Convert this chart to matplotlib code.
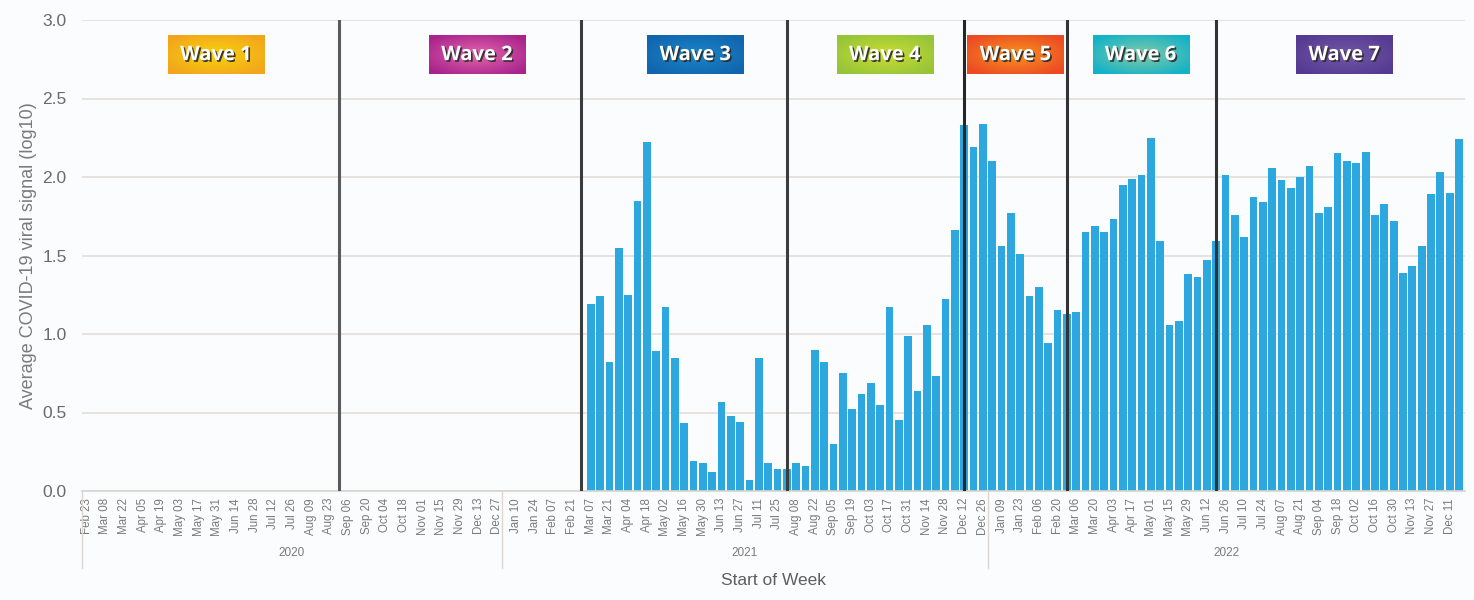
# -*- coding: utf-8 -*-

import numpy as np
import pandas as pd
import matplotlib
matplotlib.use('Agg')
import matplotlib.pyplot as plt
import matplotlib.patheffects as pe
from matplotlib.colors import to_rgb


# weekly samples, first week with a reading is 2021-03-07
first_week = '2020-02-23'
n_weeks = 148
data_start = '2021-03-07'
signal = [1.19, 1.24, 0.82, 1.55, 1.25, 1.85, 2.22, 0.89, 1.17, 0.85,
          0.43, 0.19, 0.18, 0.12, 0.57, 0.48, 0.44, 0.07, 0.85, 0.18,
          0.14, 0.14, 0.18, 0.16, 0.90, 0.82, 0.30, 0.75, 0.52, 0.62,
          0.69, 0.55, 1.17, 0.45, 0.99, 0.64, 1.06, 0.73, 1.22, 1.66,
          2.33, 2.19, 2.34, 2.10, 1.56, 1.77, 1.51, 1.24, 1.30, 0.94,
          1.15, 1.13, 1.14, 1.65, 1.69, 1.65, 1.73, 1.95, 1.99, 2.01,
          2.25, 1.59, 1.06, 1.08, 1.38, 1.36, 1.47, 1.59, 2.01, 1.76,
          1.62, 1.87, 1.84, 2.06, 1.98, 1.93, 2.00, 2.07, 1.77, 1.81,
          2.15, 2.10, 2.09, 2.16, 1.76, 1.83, 1.72, 1.39, 1.43, 1.56,
          1.89, 2.03, 1.90, 2.24]

# week where each new wave starts
wave_starts = ['2020-08-30', '2021-02-28', '2021-08-01', '2021-12-12',
               '2022-02-27', '2022-06-19']
wave_names = ['Wave 1', 'Wave 2', 'Wave 3', 'Wave 4', 'Wave 5', 'Wave 6', 'Wave 7']
# (centre colour, edge colour) of each label box
wave_colors = [('#f8d20e', '#f2a51c'), ('#e466ac', '#a8248c'),
               ('#1a86c8', '#1165ae'), ('#cade30', '#96c43a'),
               ('#f7941e', '#ec4a24'), ('#86caa6', '#12b2c8'),
               ('#7258a6', '#553a92')]

years = ['2020', '2021', '2022']


weeks = pd.date_range(first_week, periods=n_weeks, freq='7D')
values = pd.Series(np.nan, index=weeks)
values[pd.Timestamp(data_start):] = signal
x = np.arange(n_weeks)

def week_index(d):
	return int(np.where(weeks == pd.Timestamp(d))[0][0])

plt.rcParams['font.family'] = ['Liberation Sans', 'DejaVu Sans']

fig = plt.figure(figsize=(14.74, 6.0), dpi=100)
fig.patch.set_facecolor('#fbfcfd')
ax = fig.add_axes([82/1474, 109/600, 1383/1474, 471/600])
ax.set_facecolor('#fbfcfd')

ax.bar(x, values.values, width=0.84, color='#2ca7e0', zorder=2)

line_cols = ['#5a5a5a', '#3c3c3c', '#3c3c3c', '#262626', '#333333', '#333333']
for d, c in zip(wave_starts, line_cols):
	ax.axvline(week_index(d), color=c, lw=2.2, zorder=3)

# wave label boxes with a soft radial gradient
label_x = [13.85, 41.8, 65.2, 85.5, 99.5, 112.9, 134.7]
yy, xx = np.mgrid[-1:1:40j, -1:1:100j]
rr = np.clip(np.sqrt(xx**2 + yy**2) / 1.25, 0, 1)[..., None]
for name, cx, (c_in, c_out) in zip(wave_names, label_x, wave_colors):
	grad = np.array(to_rgb(c_in)) * (1 - rr) + np.array(to_rgb(c_out)) * rr
	ax.imshow(grad, extent=[cx - 5.15, cx + 5.15, 2.655, 2.898], aspect='auto',
	          zorder=4, interpolation='bilinear')
	ax.text(cx, 2.776, name, ha='center', va='center', color='white',
	        fontsize=14.5, fontweight='bold', family=['Open Sans', 'DejaVu Sans'], zorder=5,
	        path_effects=[pe.withSimplePatchShadow(offset=(1.2, -1.2), shadow_rgbFace='#2a2a2a', alpha=0.9)])

ax.set_xlim(-0.5, 147.65)
ax.set_ylim(0, 3.0)
ax.set_yticks(np.arange(0, 3.01, 0.5))
ax.set_yticklabels(['%.1f' % v for v in np.arange(0, 3.01, 0.5)], fontsize=12.5, color='#6a6a6a')
ax.yaxis.grid(True, color='#e2ddd8', lw=1.2, zorder=0)
ax.tick_params(axis='y', length=0, pad=11)
for s in ax.spines.values():
	s.set_visible(False)

tick_pos = x[::2]
ax.set_xticks(tick_pos)
ax.set_xticklabels([weeks[i].strftime('%b %d') for i in tick_pos], rotation=90,
                   fontsize=8.3, color='#7a7a7a')
ax.tick_params(axis='x', length=0, pad=5)

# year grouping under the week labels
trans = ax.get_xaxis_transform()
ax.plot([-0.5, 147.65], [0, 0], color='#d9d4cf', lw=1.2, transform=trans, clip_on=False)
year_edges = [-0.5, week_index('2021-01-03') - 0.5, week_index('2022-01-02') - 0.5, 147.65]
for e in year_edges[:-1]:
	ax.plot([e, e], [0, -0.163], color='#dcd7d2', lw=1.0, transform=trans, clip_on=False)
for i, yr in enumerate(years):
	ax.text((year_edges[i] + year_edges[i + 1]) / 2, -0.132, yr, transform=trans,
	        ha='center', va='center', fontsize=8.5, color='#7a7a7a')

ax.text(0.5, -0.189, 'Start of Week', transform=ax.transAxes, ha='center', va='center',
        fontsize=12.5, color='#5e5e5e')
ax.set_ylabel('Average COVID-19 viral signal (log10)', fontsize=13, color='#7a7a7a', labelpad=4)

fig.savefig('out.png', dpi=100, facecolor=fig.get_facecolor())
